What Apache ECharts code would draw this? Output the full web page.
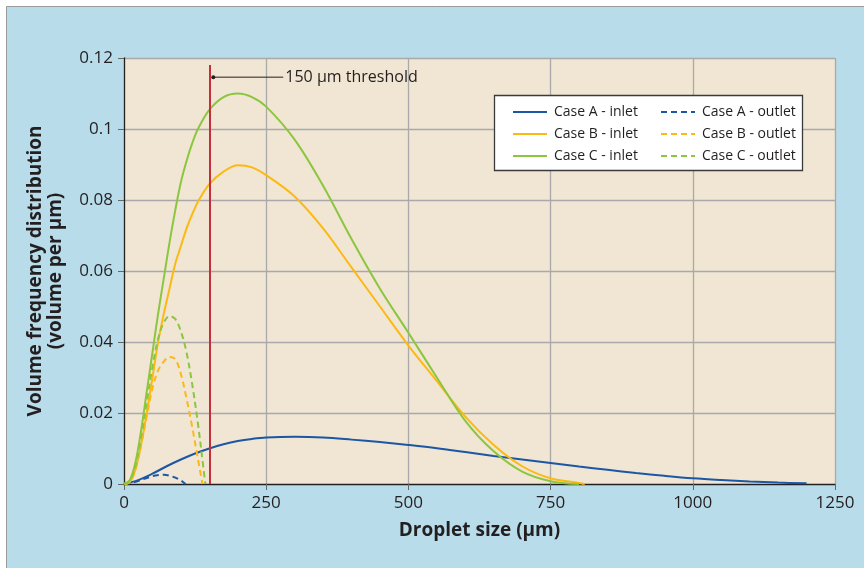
<!DOCTYPE html>
<html lang="en">
<head>
    <meta charset="UTF-8">
    <title>Droplet size distribution</title>
    <script src="https://cdn.jsdelivr.net/npm/echarts@6/dist/echarts.min.js"></script>
    <style>
        body { margin: 0; background: #fff; }
    </style>
</head>
<body>
<div id="main" style="width: 864px;height:568px;"></div>
<script type="text/javascript">
    // data: [droplet size (um), volume frequency]
    var xTicks = [0, 250, 500, 750, 1000, 1250];
    var yTicks = [0, 0.02, 0.04, 0.06, 0.08, 0.1, 0.12];

    var aInlet = [[0,0],[25,0.0011],[50,0.0029],[75,0.005],[100,0.0069],[125,0.0086],[150,0.0100],[175,0.0112],
        [200,0.0121],[225,0.0127],[250,0.0131],[300,0.0133],[350,0.0131],[400,0.0125],[450,0.0118],[500,0.011],
        [550,0.0101],[600,0.009],[650,0.0079],[700,0.0069],[750,0.0059],[800,0.0049],[850,0.004],[900,0.0031],
        [950,0.0023],[1000,0.0016],[1050,0.0011],[1100,0.0007],[1150,0.0004],[1200,0.0002]];
    var bInlet = [[0,0],[10,0.0005],[20,0.004],[30,0.011],[40,0.020],[50,0.030],[60,0.040],[70,0.048],[80,0.055],
        [90,0.062],[100,0.067],[110,0.072],[120,0.076],[130,0.0795],[150,0.0845],[175,0.088],[200,0.0898],
        [225,0.0892],[250,0.087],[300,0.081],[350,0.072],[400,0.061],[450,0.050],[500,0.039],[550,0.029],
        [600,0.019],[650,0.011],[700,0.005],[750,0.0016],[800,0.0003],[810,0]];
    var cInlet = [[0,0],[10,0.001],[20,0.006],[30,0.015],[40,0.026],[50,0.037],[60,0.048],[70,0.058],[80,0.068],
        [90,0.077],[100,0.085],[110,0.091],[120,0.096],[130,0.100],[150,0.1054],[175,0.109],[200,0.110],
        [225,0.109],[250,0.1063],[300,0.097],[350,0.084],[400,0.069],[450,0.055],[500,0.0426],
        [550,0.030],[600,0.0178],[650,0.0092],[700,0.0035],[750,0.0008],[800,0]];
    var aOutlet = [[0,0],[20,0.0006],[40,0.0017],[55,0.0024],[70,0.0026],[85,0.0021],[100,0.001],[108,0]];
    var bOutlet = [[0,0],[10,0.0005],[20,0.004],[30,0.011],[40,0.019],[50,0.027],[60,0.032],[70,0.0345],
        [80,0.0358],[90,0.0352],[100,0.031],[110,0.024],[120,0.016],[130,0.007],[138,0]];
    var cOutlet = [[0,0],[10,0.001],[20,0.005],[30,0.013],[40,0.023],[50,0.033],[60,0.041],[70,0.0455],
        [80,0.0473],[90,0.0465],[100,0.043],[110,0.037],[120,0.028],[130,0.017],[140,0.004],[143,0]];

    var threshold = 150;
    var thresholdTop = 0.118;
    var noteLine = [[157, 0.1146], [280, 0.1146]];

    var txt = '#231f20';
    var font = 'Open Sans';
    var colA = '#1b57a5', colB = '#fdb913', colC = '#8cc63f';

    var myChart = echarts.init(document.getElementById('main'));

    function curve(name, data, color, dashed) {
        return {
            name: name,
            type: 'line',
            data: data,
            symbol: 'none',
            smooth: 0.35,
            lineStyle: { color: color, width: 2, type: dashed ? [6, 4] : 'solid' },
            itemStyle: { color: color }
        };
    }

    var series = [
        curve('Case A - inlet', aInlet, colA, false),
        curve('Case A - outlet', aOutlet, colA, true),
        curve('Case B - inlet', bInlet, colB, false),
        curve('Case B - outlet', bOutlet, colB, true),
        curve('Case C - inlet', cInlet, colC, false),
        curve('Case C - outlet', cOutlet, colC, true)
    ];

    // 150 um threshold line
    series.push({
        type: 'line',
        data: [],
        silent: true,
        markLine: {
            symbol: 'none',
            label: { show: false },
            lineStyle: { color: '#c62e3a', width: 2, type: 'solid' },
            data: [[{ coord: [threshold, 0] }, { coord: [threshold, thresholdTop] }]]
        }
    });
    // label pointer
    series.push({
        type: 'line',
        silent: true,
        data: [
            { value: noteLine[0], symbol: 'circle', symbolSize: 4 },
            { value: noteLine[1], symbol: 'circle', symbolSize: 0.1, label: {
                show: true, position: 'right', distance: 2, formatter: '150 µm threshold',
                color: txt, fontFamily: font, fontSize: 16 } }
        ],
        showAllSymbol: true,
        lineStyle: { color: txt, width: 1 },
        itemStyle: { color: txt }
    });

    var legendCommon = {
        orient: 'vertical',
        top: 100,
        itemWidth: 34,
        itemHeight: 14,
        itemGap: 8,
        z: 20,
        itemStyle: { opacity: 0 },
        textStyle: { color: txt, fontFamily: font, fontSize: 14, padding: [0, 0, 0, 2] }
    };

    option = {
        backgroundColor: '#b9dcea',
        textStyle: { fontFamily: font },
        animation: false,
        grid: {
            left: 124, right: 29, top: 58, bottom: 84,
            show: true, backgroundColor: '#f0e6d3', borderWidth: 0
        },
        graphic: [
            { type: 'rect', shape: { x: 0, y: 0, width: 864, height: 6 }, style: { fill: '#fff' }, silent: true },
            { type: 'rect', shape: { x: 0, y: 0, width: 6, height: 568 }, style: { fill: '#fff' }, silent: true },
            { type: 'polyline', shape: { points: [[6.5, 568], [6.5, 6.5], [864, 6.5]] },
                style: { stroke: '#9a9a9a', lineWidth: 1, fill: null }, silent: true },
            { type: 'rect', z: 10, shape: { x: 494.5, y: 95.5, width: 308, height: 75 },
                style: { fill: '#fff', stroke: '#3a3a3a', lineWidth: 1.3 }, silent: true }
        ],
        legend: [
            Object.assign({ left: 507, data: ['Case A - inlet', 'Case B - inlet', 'Case C - inlet'] }, legendCommon),
            Object.assign({ left: 655, data: ['Case A - outlet', 'Case B - outlet', 'Case C - outlet'] }, legendCommon)
        ],
        xAxis: {
            type: 'value',
            min: xTicks[0],
            max: xTicks[xTicks.length - 1],
            interval: xTicks[1] - xTicks[0],
            name: 'Droplet size (µm)',
            nameLocation: 'middle',
            nameGap: 37,
            nameTextStyle: { color: txt, fontFamily: font, fontSize: 19, fontWeight: 'bold' },
            axisLine: { show: true, lineStyle: { color: txt, width: 1.3 } },
            axisTick: { show: true, length: 6, lineStyle: { color: '#666' } },
            axisLabel: { color: txt, fontFamily: font, fontSize: 17, margin: 11,
                formatter: function (v) { return String(v); } },
            splitLine: { show: true, showMinLine: false, lineStyle: { color: '#a9a9a9', width: 1.3 } }
        },
        yAxis: {
            type: 'value',
            min: yTicks[0],
            max: yTicks[yTicks.length - 1],
            interval: yTicks[1] - yTicks[0],
            name: 'Volume frequency distribution\n(volume per µm)',
            nameLocation: 'middle',
            nameGap: 58,
            nameTextStyle: { color: txt, fontFamily: font, fontSize: 19, fontWeight: 'bold', lineHeight: 20 },
            axisLine: { show: true, lineStyle: { color: txt, width: 1.3 } },
            axisTick: { show: true, length: 6, lineStyle: { color: '#666' } },
            axisLabel: { color: txt, fontFamily: font, fontSize: 17, margin: 11 },
            splitLine: { show: true, showMinLine: false, lineStyle: { color: '#a9a9a9', width: 1.3 } }
        },
        series: series
    };

    myChart.setOption(option);
</script>
</body>
</html>
